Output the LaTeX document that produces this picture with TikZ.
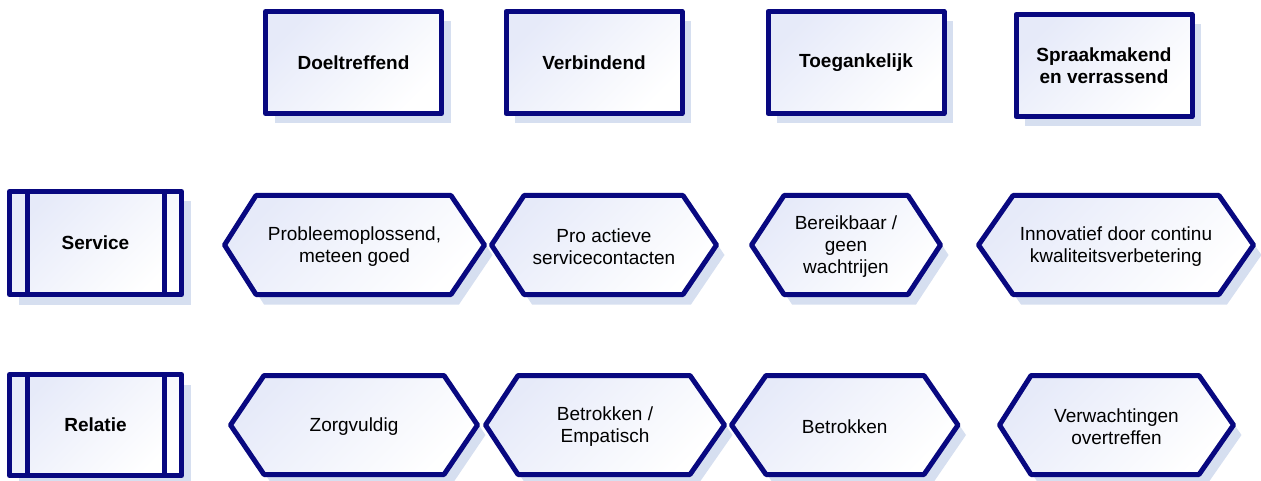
\documentclass[tikz,border=0pt]{standalone}
\usepackage{fontspec}
\setmainfont{Liberation Sans}
\usetikzlibrary{shadows}
\definecolor{navy}{RGB}{8,8,128}
\definecolor{shad}{RGB}{214,223,240}
\definecolor{fillc}{RGB}{230,234,249}
\tikzset{
  boxfill/.style={top color=fillc, bottom color=white, shading angle=45},
  border/.style={draw=navy, line width=5pt, line join=round},
  lbl/.style={font=\fontsize{19}{22}\selectfont, align=center, inner sep=0pt},
  blbl/.style={lbl, font=\fontsize{19}{22}\selectfont\bfseries},
  sh/.style={drop shadow={shadow xshift=9pt, shadow yshift=-10pt, fill=shad, opacity=1}},
  topbox/.style={rectangle, boxfill, border, sh, blbl, minimum width=176pt, minimum height=102pt},
  sidebox/.style={rectangle, boxfill, border, sh, blbl, minimum width=172pt},
}
% hexagon: name, left, top-left x, top-right x, right, mid y, text
\newcommand\hexshape[7]{%
  \fill[shad] ({#2+8},{#6+10}) -- ({#3+8},{#6-49.5+10}) -- ({#4+8},{#6-49.5+10}) -- ({#5+8},{#6+10}) -- ({#4+8},{#6+49.5+10}) -- ({#3+8},{#6+49.5+10}) -- cycle;
  \path[boxfill,border] (#2,#6) -- (#3,{#6-49.5}) -- (#4,{#6-49.5}) -- (#5,#6) -- (#4,{#6+49.5}) -- (#3,{#6+49.5}) -- cycle;
  \node[lbl] (#1) at ({(#2+#5)/2},{#6+1.5}) {#7};
}
\begin{document}
\begin{tikzpicture}[x=1pt,y=-1pt]
\useasboundingbox (0,0) rectangle (1261,481);
% top headers
\node[topbox] (doel) at (353.5,62.5) {Doeltreffend};
\node[topbox] (verb) at (594,62.5) {Verbindend};
\node[topbox] (toeg) at (856,62.5) {Toegankelijk};
\node[topbox] (spra) at (1104,65.5) {Spraakmakend\\en verrassend};
% row labels
\node[sidebox, minimum height=103pt] (serv) at (95.5,243) {Service};
\draw[border] ([xshift=20.5pt]serv.north west) -- ([xshift=20.5pt]serv.south west);
\draw[border] ([xshift=-20pt]serv.north east) -- ([xshift=-20pt]serv.south east);
\node[sidebox, minimum height=101pt] (rel) at (95.5,425) {Relatie};
\draw[border] ([xshift=20.5pt]rel.north west) -- ([xshift=20.5pt]rel.south west);
\draw[border] ([xshift=-20pt]rel.north east) -- ([xshift=-20pt]rel.south east);
% row 1
\hexshape{s1}{224.5}{256}{451}{484.5}{245}{Probleemoplossend,\\meteen goed}
\hexshape{s2}{491.5}{524}{683}{716.5}{245}{Pro actieve\\servicecontacten}
\hexshape{s3}{751.5}{784}{908}{940.5}{245}{Bereikbaar /\\geen\\wachtrijen}
\hexshape{s4}{978.5}{1013}{1219}{1253.5}{245}{Innovatief door continu\\kwaliteitsverbetering}
% row 2
\hexshape{r1}{230.5}{264}{444}{477.5}{425}{Zorgvuldig}
\hexshape{r2}{485.5}{518}{690}{724.5}{425}{Betrokken /\\Empatisch}
\hexshape{r3}{731.5}{766}{924}{958}{425}{Betrokken}
\hexshape{r4}{999.5}{1031}{1199}{1233.5}{425}{Verwachtingen\\overtreffen}
\end{tikzpicture}
\end{document}
